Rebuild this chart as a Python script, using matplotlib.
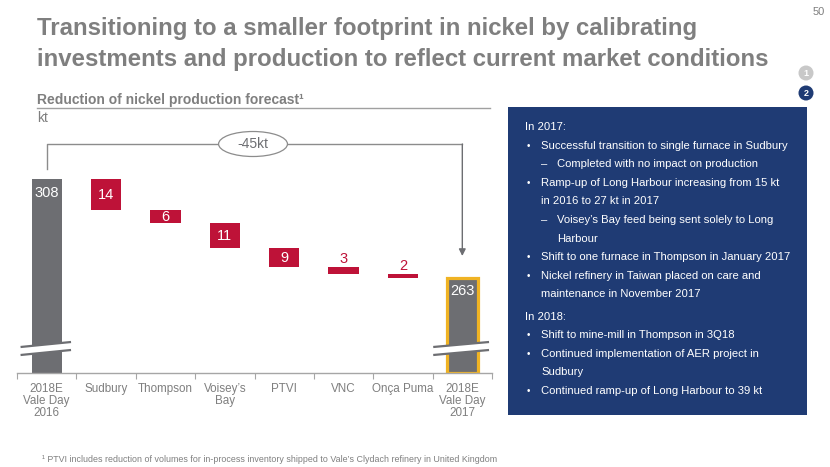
import matplotlib
matplotlib.use('Agg')
import matplotlib.pyplot as plt
import numpy as np
from matplotlib.patches import Rectangle, Ellipse, Polygon
from matplotlib import font_manager as fm

# ---------------- data ----------------
categories = ['2018E\nVale Day\n2016', 'Sudbury', 'Thompson', 'Voisey\u2019s\nBay',
              'PTVI', 'VNC', 'Onça Puma', '2018E\nVale Day\n2017']
start_value = 308
reductions = [14, 6, 11, 9, 3, 2]
end_value = 263
total_change_label = '-45kt'
axis_floor = 220  # broken axis starts here

title_lines = ['Transitioning to a smaller footprint in nickel by calibrating',
               'investments and production to reflect current market conditions']
subtitle = 'Reduction of nickel production forecast\u00b9'
unit = 'kt'
page_number = '50'
footnote = ('\u00b9 PTVI includes reduction of volumes for in-process inventory shipped '
            'to Vale\u2019s Clydach refinery in United Kingdom')

box_kinds = ['h', 'b', 's', 'b', 'bc', 's', 'sc', 'b', 'b', 'bc', 'h', 'b', 'b', 'bc', 'b']
box_texts = ['In 2017:',
             'Successful transition to single furnace in Sudbury',
             'Completed with no impact on production',
             'Ramp-up of Long Harbour increasing from 15 kt',
             'in 2016 to 27 kt in 2017',
             'Voisey\u2019s Bay feed being sent solely to Long',
             'Harbour',
             'Shift to one furnace in Thompson in January 2017',
             'Nickel refinery in Taiwan placed on care and',
             'maintenance in November 2017',
             'In 2018:',
             'Shift to mine-mill in Thompson in 3Q18',
             'Continued implementation of AER project in',
             'Sudbury',
             'Continued ramp-up of Long Harbour to 39 kt']

# ---------------- style ----------------
GRAY_BAR = '#6d6e72'
RED = '#be1238'
YELLOW = '#f0b323'
BLUE = '#1f3b74'
TXT = '#7f7f7f'
LINE = '#8c8c8c'


def has_font(name):
    try:
        fm.findfont(fm.FontProperties(family=name), fallback_to_default=False)
        return True
    except Exception:
        return False


SANS = 'Liberation Sans' if has_font('Liberation Sans') else 'DejaVu Sans'
plt.rcParams['font.family'] = [SANS, 'DejaVu Sans']

W, H = 830, 467
fig = plt.figure(figsize=(W / 100, H / 100), dpi=100)


def fx(x):
    return x / W


def fy(y):
    return 1 - y / H


# ---------------- header ----------------
fig.text(fx(37), fy(35), title_lines[0], fontsize=17.3, fontweight='bold',
         color=TXT, va='baseline', ha='left')
fig.text(fx(37), fy(66), title_lines[1], fontsize=17.3, fontweight='bold',
         color=TXT, va='baseline', ha='left')
fig.text(fx(825), fy(12), page_number, fontsize=8, color=TXT, ha='right', va='center')

for (cx, cy), col, lab in [((806, 73), '#c8c8c8', '1'), ((806, 93), BLUE, '2')]:
    fig.patches.append(Ellipse((fx(cx), fy(cy)), 15 / W, 15 / H, transform=fig.transFigure,
                               facecolor=col, edgecolor='none'))
    fig.text(fx(cx), fy(cy), lab, fontsize=6.5, fontweight='bold', color='white',
             ha='center', va='center')

fig.text(fx(37), fy(104), subtitle, fontsize=10, fontweight='bold', color=TXT,
         ha='left', va='baseline')
fig.add_artist(plt.Line2D([fx(37), fx(490)], [fy(108), fy(108)], color='#a0a0a0', lw=1,
                          transform=fig.transFigure))
fig.text(fx(37), fy(122), unit, fontsize=10, color=TXT, ha='left', va='baseline')

# ---------------- chart ----------------
px_per_kt = 2.2
ax = fig.add_axes([fx(17), fy(373), fx(492) - fx(17), (373 - 130) / H])
ax.set_xlim(-0.5, len(categories) - 0.5)
ax.set_ylim(axis_floor, axis_floor + 243 / px_per_kt)

bw = 0.51
ax.bar(0, start_value - axis_floor, bottom=axis_floor, width=bw, color=GRAY_BAR, zorder=2)
level = start_value
for i, d in enumerate(reductions, start=1):
    ax.bar(i, d, bottom=level - d, width=bw, color=RED, zorder=2)
    if d >= 5:
        ax.annotate(str(d), (i, level - d / 2), ha='center', va='center', color='white',
                    fontsize=10.5)
    else:
        ax.annotate(str(d), (i, level), xytext=(0, 8), textcoords='offset pixels',
                    ha='center', va='center', color=RED, fontsize=10.5)
    level -= d
last = len(categories) - 1
ax.bar(last, end_value - axis_floor, bottom=axis_floor, width=0.52, color=GRAY_BAR,
       edgecolor=YELLOW, linewidth=2.3, zorder=2)

ax.annotate(str(start_value), (0, start_value), xytext=(0, -14), textcoords='offset pixels',
            ha='center', va='center', color='white', fontsize=10.5, zorder=4)
ax.annotate(str(end_value), (last, end_value), xytext=(0, -13), textcoords='offset pixels',
            ha='center', va='center', color='white', fontsize=10.5, zorder=4)

# axis breaks
for xc, xl, xr in [(0, -0.44, 0.41), (last, -0.49, 0.45)]:
    yl_top, yr_top = axis_floor + 26 / px_per_kt, axis_floor + 31 / px_per_kt
    yl_bot, yr_bot = axis_floor + 18 / px_per_kt, axis_floor + 23 / px_per_kt
    ax.add_patch(Polygon([(xc + xl, yl_top), (xc + xr, yr_top), (xc + xr, yr_bot),
                          (xc + xl, yl_bot)], closed=True, facecolor='white',
                         edgecolor='none', zorder=5, clip_on=False))
    ax.plot([xc + xl, xc + xr], [yl_top, yr_top], color=GRAY_BAR, lw=1.6, zorder=6,
            clip_on=False, solid_capstyle='butt')
    ax.plot([xc + xl, xc + xr], [yl_bot, yr_bot], color=GRAY_BAR, lw=1.6, zorder=6,
            clip_on=False, solid_capstyle='butt')

# bracket with total change
y_br = axis_floor + (373 - 144) / px_per_kt
ax.plot([0, 0, last, last], [axis_floor + (373 - 169) / px_per_kt, y_br, y_br, y_br],
        color=LINE, lw=1, zorder=1, clip_on=False)
ax.annotate('', xy=(last, axis_floor + (373 - 256) / px_per_kt), xytext=(last, y_br),
            arrowprops=dict(arrowstyle='-|>', color='#6d6e72', lw=1, mutation_scale=10,
                            shrinkA=0, shrinkB=0), zorder=1)
ax.add_patch(Ellipse((3.475, y_br), 1.16, 25 / px_per_kt, facecolor='white',
                     edgecolor=LINE, lw=0.9, zorder=3, clip_on=False))
ax.text(3.475, y_br, total_change_label, ha='center', va='center', fontsize=10,
        color='#6d6e72', zorder=4)

# axis styling
for s in ['left', 'right', 'top']:
    ax.spines[s].set_visible(False)
ax.spines['bottom'].set_color('#a6a6a6')
ax.spines['bottom'].set_linewidth(1)
ax.set_yticks([])
ax.set_xticks(np.arange(-0.5, len(categories)), labels=[])
ax.tick_params(axis='x', which='major', length=4, color='#a6a6a6', direction='out')
ax.set_xticks(np.arange(len(categories)), labels=categories, minor=True)
ax.tick_params(axis='x', which='minor', length=0, pad=7, labelsize=8.4, labelcolor=TXT)
for t in ax.get_xticklabels(minor=True):
    t.set_linespacing(1.0)
ax.patch.set_visible(False)

# ---------------- right box ----------------
fig.patches.append(Rectangle((fx(508), fy(415)), fx(807) - fx(508), (415 - 107) / H,
                             transform=fig.transFigure, facecolor=BLUE, edgecolor='none'))
BOX_FS = 8.1
y = 127
for kind, txt in zip(box_kinds, box_texts):
    if kind == 'h' and y > 130:
        y += 3.5
    if kind == 'h':
        fig.text(fx(525), fy(y), txt, fontsize=BOX_FS, color='white',
                 va='center', ha='left')
    elif kind in ('b', 'bc'):
        if kind == 'b':
            fig.text(fx(527), fy(y), '\u2022', fontsize=7, color='white', va='center')
        fig.text(fx(541), fy(y), txt, fontsize=BOX_FS, color='white',
                 va='center', ha='left')
    else:
        if kind == 's':
            fig.text(fx(541), fy(y), '\u2013', fontsize=BOX_FS, color='white', va='center')
        fig.text(fx(557), fy(y), txt, fontsize=BOX_FS, color='white',
                 va='center', ha='left')
    y += 18.6

# ---------------- footnote ----------------
fig.text(fx(42), fy(459), footnote, fontsize=6.4, color=TXT, va='center', ha='left')

fig.savefig('out.png', dpi=100)
